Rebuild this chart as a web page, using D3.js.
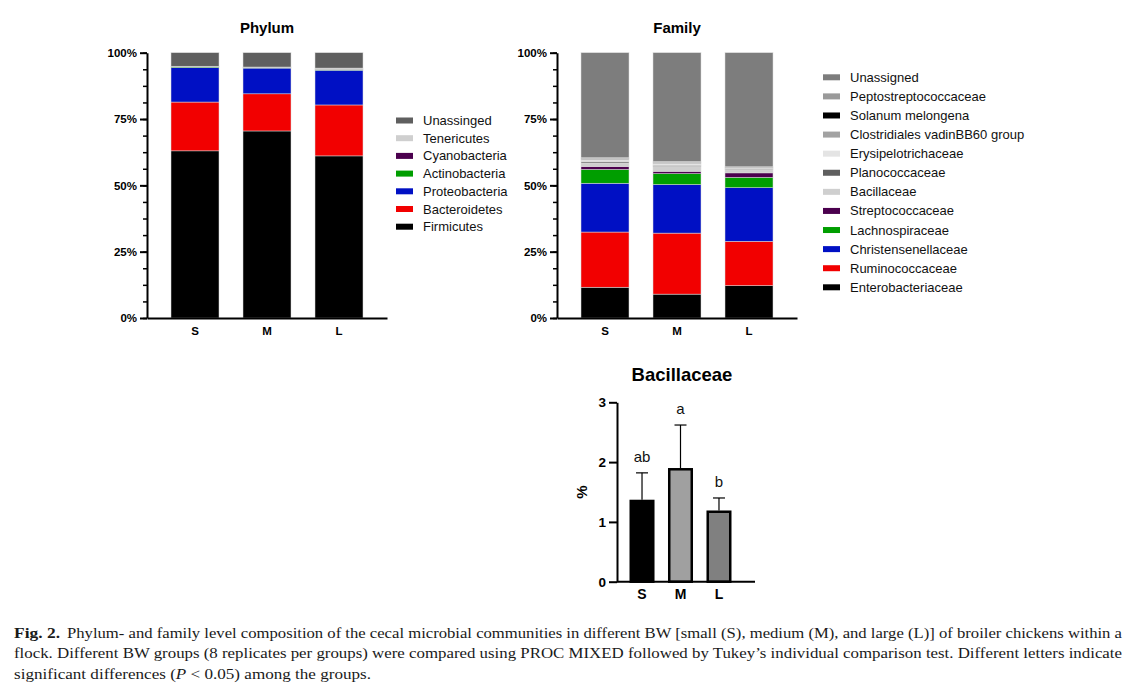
<!DOCTYPE html>
<html>
<head>
<meta charset="utf-8">
<script src="https://cdn.jsdelivr.net/npm/d3@7"></script>
<style>
  body { margin: 0; background: #fff; }
  .sans { font-family: "Liberation Sans", Arial, sans-serif; }
  .serif text { font-family: "Liberation Serif", "Times New Roman", serif; }
</style>
</head>
<body>
<script>
// groups and series (bottom to top in stack order)
const groups = ["S", "M", "L"];

const phylumNames = ["Firmicutes", "Bacteroidetes", "Proteobacteria", "Actinobacteria", "Cyanobacteria", "Tenericutes", "Unassinged"];
const phylumColors = ["#000000", "#f20000", "#0010c4", "#009e00", "#4b004e", "#cfcfcf", "#5f5f5f"];
const phylumS = [63.0, 18.4, 13.0, 0.35, 0.05, 0.1, 5.1];
const phylumM = [70.5, 14.0, 9.7, 0.3, 0.05, 0.05, 5.4];
const phylumL = [61.1, 19.2, 13.1, 0.3, 0.1, 0.4, 5.8];

const familyNames = ["Enterobacteriaceae", "Ruminococcaceae", "Christensenellaceae", "Lachnospiraceae", "Streptococcaceae", "Bacillaceae", "Planococcaceae", "Erysipelotrichaceae", "Clostridiales vadinBB60 group", "Solanum melongena", "Peptostreptococcaceae", "Unassigned"];
const familyColors = ["#000000", "#f20000", "#0010c4", "#009e00", "#4b004e", "#cfcfcf", "#5f5f5f", "#e4e4e4", "#a2a2a2", "#000000", "#9a9a9a", "#7d7d7d"];
const familyS = [11.6, 20.8, 18.4, 5.2, 1.1, 1.35, 0.5, 0.6, 0.4, 0.1, 0.35, 39.6];
const familyM = [9.0, 23.0, 18.3, 4.1, 0.9, 1.87, 0.4, 0.6, 0.4, 0.1, 0.33, 41.0];
const familyL = [12.2, 16.7, 20.2, 3.9, 1.7, 1.17, 0.3, 0.3, 0.2, 0.1, 0.23, 43.0];

const pctTicks = [0, 25, 50, 75, 100];
const pctMinor = d3.range(0, 100.01, 6.25);

// Bacillaceae relative abundance (mean, SD) and letters
const bacMean = [1.35, 1.88, 1.17];
const bacErr = [0.47, 0.74, 0.23];
const bacLetters = ["ab", "a", "b"];
const bacColors = ["#000000", "#a0a0a0", "#808080"];
const bacTicks = [0, 1, 2, 3];

const captionLines = [
  "Phylum- and family level composition of the cecal microbial communities in different BW [small (S), medium (M), and large (L)] of broiler chickens within a",
  "flock. Different BW groups (8 replicates per groups) were compared using PROC MIXED followed by Tukey\u2019s individual comparison test. Different letters indicate"
];

const svg = d3.select("body").append("svg")
    .attr("width", 1138)
    .attr("height", 698);

svg.append("rect").attr("width", 1138).attr("height", 698).attr("fill", "#fff");

const charts = svg.append("g").attr("class", "sans");

function styleTicks(a, size) {
  a.selectAll("text")
    .attr("font-size", size).attr("font-weight", "bold")
    .attr("font-family", null).attr("fill", "#000");
}

function stackedChart(cfg) {
  const rows = groups.map((g, i) => {
    const r = { group: g };
    cfg.names.forEach((n, j) => r[n] = cfg.values[i][j]);
    return r;
  });
  const series = d3.stack().keys(cfg.names)(rows);

  const x = d3.scaleBand().domain(groups)
      .range([cfg.left, cfg.left + 240])
      .paddingInner(1 / 3).paddingOuter(1 / 3);
  const y = d3.scaleLinear().domain([0, 100]).range([318, 52.7]);

  const g = charts.append("g");

  g.selectAll("g.layer")
    .data(series)
    .join("g")
      .attr("fill", (d, i) => cfg.colors[i])
    .selectAll("rect")
    .data(d => d)
    .join("rect")
      .attr("x", d => x(d.data.group))
      .attr("y", d => y(d[1]))
      .attr("width", x.bandwidth())
      .attr("height", d => y(d[0]) - y(d[1]))
      .attr("stroke", "#dcdcdc")
      .attr("stroke-width", 0.5);

  // minor ticks
  g.append("g")
      .attr("transform", `translate(${cfg.left},0)`)
      .call(d3.axisLeft(y).tickValues(pctMinor).tickSize(4).tickFormat(""))
      .call(a => a.select(".domain").remove())
      .call(a => a.selectAll("line").attr("stroke-width", 1.5));

  // major axis
  g.append("g")
      .attr("transform", `translate(${cfg.left},0)`)
      .call(d3.axisLeft(y).tickValues(pctTicks).tickSize(7).tickSizeOuter(0).tickFormat(d => d + "%"))
      .call(a => a.select(".domain").attr("stroke-width", 2))
      .call(a => a.selectAll("line").attr("stroke-width", 2))
      .call(a => styleTicks(a, 11.5));

  g.append("g")
      .attr("transform", "translate(0,318)")
      .call(d3.axisBottom(x).tickSize(0).tickSizeOuter(0).tickPadding(9))
      .call(a => a.select(".domain").attr("stroke-width", 2))
      .call(a => styleTicks(a, 11.5));

  g.append("text")
      .attr("x", x("M") + x.bandwidth() / 2)
      .attr("y", 33)
      .attr("text-anchor", "middle")
      .attr("font-size", 15)
      .attr("font-weight", "bold")
      .text(cfg.title);

  // legend, top entry is top of stack
  const names = cfg.names.slice().reverse();
  const colors = cfg.colors.slice().reverse();
  const ly = d3.scalePoint().domain(names).range(cfg.legendY);
  const leg = g.append("g").selectAll("g")
    .data(names)
    .join("g")
      .attr("transform", d => `translate(${cfg.legendX},${ly(d)})`);
  leg.append("rect")
      .attr("x", 0).attr("y", -3)
      .attr("width", 17).attr("height", 6)
      .attr("fill", (d, i) => colors[i]);
  leg.append("text")
      .attr("x", 27).attr("y", 4.5)
      .attr("font-size", 13)
      .attr("fill", "#111")
      .text(d => d);
}

stackedChart({
  title: "Phylum", left: 147,
  names: phylumNames, colors: phylumColors,
  values: [phylumS, phylumM, phylumL],
  legendX: 396, legendY: [120.5, 226.7]
});

stackedChart({
  title: "Family", left: 557,
  names: familyNames, colors: familyColors,
  values: [familyS, familyM, familyL],
  legendX: 823, legendY: [77.3, 287.3]
});

// Bacillaceae bar chart
{
  const bx = d3.scaleBand().domain(groups).range([617, 744])
      .paddingInner(0.35).paddingOuter(0.325);
  const by = d3.scaleLinear().domain([0, 3]).range([581.7, 402.3]);
  const g = charts.append("g");

  g.selectAll("rect.bar")
    .data(groups)
    .join("rect")
      .attr("class", "bar")
      .attr("x", d => bx(d) + 1.25)
      .attr("y", (d, i) => by(bacMean[i]))
      .attr("width", bx.bandwidth() - 2.5)
      .attr("height", (d, i) => by(0) - by(bacMean[i]))
      .attr("fill", (d, i) => bacColors[i])
      .attr("stroke", "#000")
      .attr("stroke-width", 2.5);

  const cx = d => bx(d) + bx.bandwidth() / 2;
  g.selectAll("line.err")
    .data(groups)
    .join("line")
      .attr("x1", cx).attr("x2", cx)
      .attr("y1", (d, i) => by(bacMean[i]) - 1.25)
      .attr("y2", (d, i) => by(bacMean[i] + bacErr[i]))
      .attr("stroke", "#000").attr("stroke-width", 1.2);
  g.selectAll("line.cap")
    .data(groups)
    .join("line")
      .attr("x1", d => cx(d) - 6).attr("x2", d => cx(d) + 6)
      .attr("y1", (d, i) => by(bacMean[i] + bacErr[i]))
      .attr("y2", (d, i) => by(bacMean[i] + bacErr[i]))
      .attr("stroke", "#000").attr("stroke-width", 1.2);
  g.selectAll("text.letter")
    .data(groups)
    .join("text")
      .attr("x", cx)
      .attr("y", (d, i) => by(bacMean[i] + bacErr[i]) - 11)
      .attr("text-anchor", "middle")
      .attr("font-size", 15)
      .attr("fill", "#111")
      .text((d, i) => bacLetters[i]);

  g.append("g")
      .attr("transform", "translate(617,0)")
      .call(d3.axisLeft(by).tickValues(bacTicks).tickSize(8).tickSizeOuter(0).tickFormat(d3.format("d")))
      .call(a => a.select(".domain").attr("stroke-width", 2))
      .call(a => a.selectAll("line").attr("stroke-width", 2))
      .call(a => styleTicks(a, 13.5));

  const xa = g.append("g")
      .attr("transform", "translate(0,581.7)")
      .call(d3.axisBottom(bx).tickSize(0).tickSizeOuter(0).tickPadding(7))
      .call(a => a.select(".domain").remove())
      .call(a => styleTicks(a, 14));
  xa.append("line")
      .attr("x1", 617).attr("x2", 755)
      .attr("stroke", "#000").attr("stroke-width", 2);

  g.append("text")
      .attr("x", 682).attr("y", 381)
      .attr("text-anchor", "middle")
      .attr("font-size", 18.5)
      .attr("font-weight", "bold")
      .text("Bacillaceae");

  g.append("text")
      .attr("transform", "translate(587,492) rotate(-90)")
      .attr("text-anchor", "middle")
      .attr("font-size", 15)
      .attr("font-weight", "bold")
      .text("%");
}

// caption
{
  const c = svg.append("g").attr("class", "serif").attr("fill", "#1a1a1a");
  c.append("text")
      .attr("x", 14).attr("y", 638)
      .attr("font-size", 14.5).attr("font-weight", "bold")
      .attr("textLength", 46).attr("lengthAdjust", "spacingAndGlyphs")
      .text("Fig. 2.");
  c.append("text")
      .attr("x", 67).attr("y", 638)
      .attr("font-size", 14.5)
      .attr("textLength", 1055).attr("lengthAdjust", "spacingAndGlyphs")
      .text(captionLines[0]);
  c.append("text")
      .attr("x", 14).attr("y", 658)
      .attr("font-size", 14.5)
      .attr("textLength", 1108).attr("lengthAdjust", "spacingAndGlyphs")
      .text(captionLines[1]);
  const t3 = c.append("text")
      .attr("x", 14).attr("y", 679)
      .attr("font-size", 14.5)
      .attr("textLength", 357).attr("lengthAdjust", "spacingAndGlyphs");
  t3.append("tspan").text("significant differences (");
  t3.append("tspan").attr("font-style", "italic").text("P");
  t3.append("tspan").text(" < 0.05) among the groups.");
}
</script>
</body>
</html>
